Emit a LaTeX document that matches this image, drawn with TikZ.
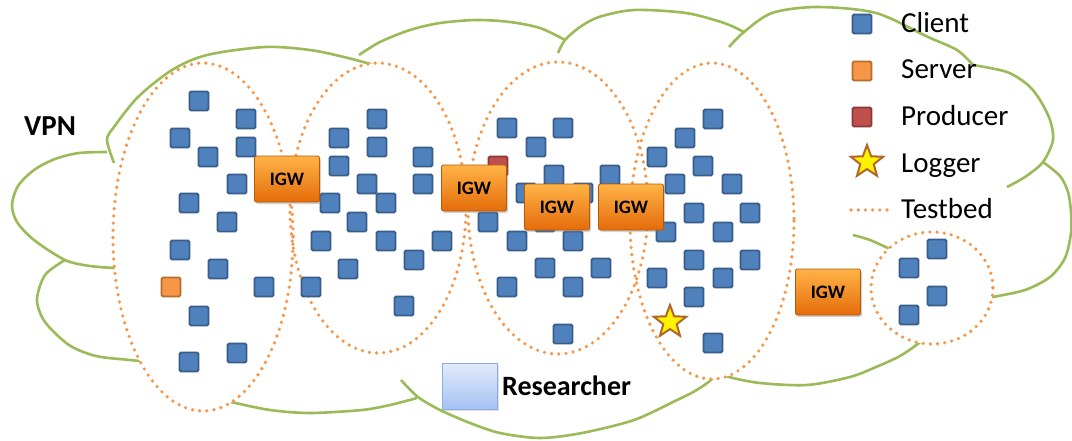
\documentclass[tikz,border=0pt]{standalone}
\usepackage{fontspec}
\setmainfont{Carlito}
\usetikzlibrary{shapes.geometric,shadows}

\definecolor{clientblue}{HTML}{4F81BD}
\definecolor{clientedge}{HTML}{385D8A}
\definecolor{serverorange}{HTML}{F79646}
\definecolor{serveredge}{HTML}{B66D31}
\definecolor{producerred}{HTML}{C0504D}
\definecolor{produceredge}{HTML}{8C3836}
\definecolor{loggeredge}{HTML}{B0672A}
\definecolor{cloudgreen}{HTML}{9BBB59}
\definecolor{testbedorange}{HTML}{F79646}
\definecolor{igwtop}{HTML}{FFB347}
\definecolor{igwbottom}{HTML}{E46C0A}
\definecolor{igwedge}{HTML}{B65A08}
\definecolor{restop}{HTML}{E2EBFB}
\definecolor{resbottom}{HTML}{A6C2F3}
\definecolor{resedge}{HTML}{8AACE0}

\begin{document}
\begin{tikzpicture}[x=1pt,y=-1pt,
  client/.style={draw=clientedge, fill=clientblue, line width=1.8pt, rounded corners=1.5pt,
    minimum size=19pt, inner sep=0pt},
  server/.style={client, draw=serveredge, fill=serverorange},
  producer/.style={client, draw=produceredge, fill=producerred},
  logger/.style={star, star points=5, star point ratio=2.4, minimum size=34pt, inner sep=0pt,
    fill=yellow, draw=loggeredge, line width=2pt},
  igw/.style={draw=igwedge, line width=0.8pt, rounded corners=2pt, top color=igwtop,
    bottom color=igwbottom, minimum width=65pt, minimum height=46pt, inner sep=0pt,
    font=\bfseries\fontsize{19}{22}\selectfont,
    drop shadow={shadow xshift=1.5pt, shadow yshift=-2pt, opacity=0.35}},
  cloudline/.style={draw=cloudgreen, line width=2.6pt},
  testbed/.style={draw=testbedorange, line width=3.6pt, dash pattern=on 0pt off 7.2pt, line cap=round},
  keytext/.style={anchor=base west, inner sep=0pt, font=\fontsize{29}{34}\selectfont}]
\useasboundingbox (0,0) rectangle (1072,440);
\fill[white] (0,0) rectangle (1072,440);

% VPN cloud
\draw[cloudline] plot[smooth] coordinates {(115,268) (90,266) (65,260) (34,240) (17,222) (12,205) (18,186) (34,170) (55,159) (79,153) (107,152)};
\draw[cloudline] plot[smooth] coordinates {(114,163) (107,140) (114,127) (138,97) (172,70) (207,55) (265,47) (310,50) (344,57) (374,65)};
\draw[cloudline] plot[smooth] coordinates {(359,55) (380,42) (410,30) (440,23) (476,20) (510,22) (540,28) (565,40)};
\draw[cloudline] plot[smooth] coordinates {(558,53) (565,40) (580,27) (599,17) (634,10) (686,13) (724,23) (744,32)};
\draw[cloudline] plot[smooth] coordinates {(729,47) (744,32) (772,13) (817,7) (876,13) (928,37) (957,50) (973,65)};
\draw[cloudline] plot[smooth] coordinates {(973,65) (1007,72) (1028,85) (1040,100) (1050,120) (1053,140) (1043,162) (1025,177) (1007,187)};
\draw[cloudline] plot[smooth] coordinates {(1043,162) (1060,176) (1068,192) (1071,212) (1071,233) (1065,258) (1050,277) (1025,290) (993,297) (978,300)};
\draw[cloudline] plot[smooth] coordinates {(853,235) (870,240) (892,250)};
\draw[cloudline] plot[smooth] coordinates {(925,336) (919,343) (900,356) (876,367) (850,377) (807,385) (760,383) (729,377) (718,372)};
\draw[cloudline] plot[smooth] coordinates {(716,372) (711,380) (695,391) (675,401) (634,420) (582,433) (540,438) (500,433) (470,423) (440,410) (418,397) (401,380)};
\draw[cloudline] plot[smooth] coordinates {(417,398) (390,405) (362,410) (310,413) (270,410) (231,402) (215,398)};
\draw[cloudline] plot[smooth] coordinates {(65,260) (45,275) (37,300) (45,322) (69,345) (96,356) (130,360) (150,362)};

% testbeds
\foreach \cx/\cy/\rx/\ry in {203/237/90/174, 378/208/88/145, 558/208/90/146, 712/221/82/158, 932/288/61/56}
  \fill[white] (\cx,\cy) ellipse [x radius=\rx, y radius=\ry];
\foreach \cx/\cy/\rx/\ry in {203/237/90/174, 378/208/88/145, 558/208/90/146, 712/221/82/158, 932/288/61/56}
  \draw[testbed] (\cx,\cy) ellipse [x radius=\rx, y radius=\ry];

% clients
\foreach \x/\y [count=\i] in {199/101, 246/119, 180/138, 246/147, 208/157, 237/184, 189/203, 227/222,
    180/250, 218/269, 264/287, 199/316, 237/353, 189/362}
  \node[client] (ta\i) at (\x,\y) {};
\foreach \x/\y [count=\i] in {339/138, 377/119, 377/147, 339/166, 367/184, 330/203, 386/203, 357/222,
    321/241, 386/241, 348/269, 311/287, 423/157, 423/184, 442/241, 414/260, 404/306}
  \node[client] (tb\i) at (\x,\y) {};
\foreach \x/\y [count=\i] in {507/128, 563/128, 536/147, 554/175, 610/175, 526/193, 583/193, 488/222,
    545/222, 517/241, 573/241, 545/268, 601/268, 507/287, 573/287, 563/334}
  \node[client] (tc\i) at (\x,\y) {};
\foreach \x/\y [count=\i] in {713/119, 685/138, 657/157, 703/166, 675/184, 732/184, 694/213, 750/213,
    666/232, 723/232, 694/260, 750/260, 657/278, 723/278, 694/297, 713/343}
  \node[client] (td\i) at (\x,\y) {};
\foreach \x/\y [count=\i] in {937/249, 909/268, 937/296, 909/315}
  \node[client] (te\i) at (\x,\y) {};

\node[server] (srv) at (171,287) {};
\node[producer] (prod) at (498,166) {};
\node[logger] (logr) at (670,322) {};

% gateways
\node[igw] (igw1) at (287,179) {IGW};
\node[igw] (igw2) at (474,188) {IGW};
\node[igw] (igw3) at (557,207) {IGW};
\node[igw] (igw4) at (631,207) {IGW};
\node[igw] (igw5) at (828,292) {IGW};

\node[draw=resedge, line width=0.8pt, top color=restop, bottom color=resbottom, minimum width=55pt,
  minimum height=46pt, inner sep=0pt, drop shadow={shadow xshift=1pt, shadow yshift=-1.5pt, opacity=0.25}]
  (res) at (470,386) {};
\node[anchor=base west, inner sep=0pt, font=\bfseries\fontsize{28}{32}\selectfont] (reslabel) at (502,395) {Researcher};
\node[anchor=base west, inner sep=0pt, font=\bfseries\fontsize{29}{34}\selectfont] (vpn) at (24,135) {VPN};

% legend
\node[client] (keyclient) at (862,24) {};
\node[server] (keyserver) at (862,71) {};
\node[producer] (keyproducer) at (862,117) {};
\node[logger] (keylogger) at (867,162) {};
\coordinate (keytbl) at (851,210);
\coordinate (keytbr) at (890,210);
\draw[testbed] (keytbl) -- (keytbr);
\node[keytext] (lclient) at (901,32) {Client};
\node[keytext] (lserver) at (901,78) {Server};
\node[keytext] (lproducer) at (901,125) {Producer};
\node[keytext] (llogger) at (901,172) {Logger};
\node[keytext] (ltestbed) at (901,218) {Testbed};
\end{tikzpicture}
\end{document}
